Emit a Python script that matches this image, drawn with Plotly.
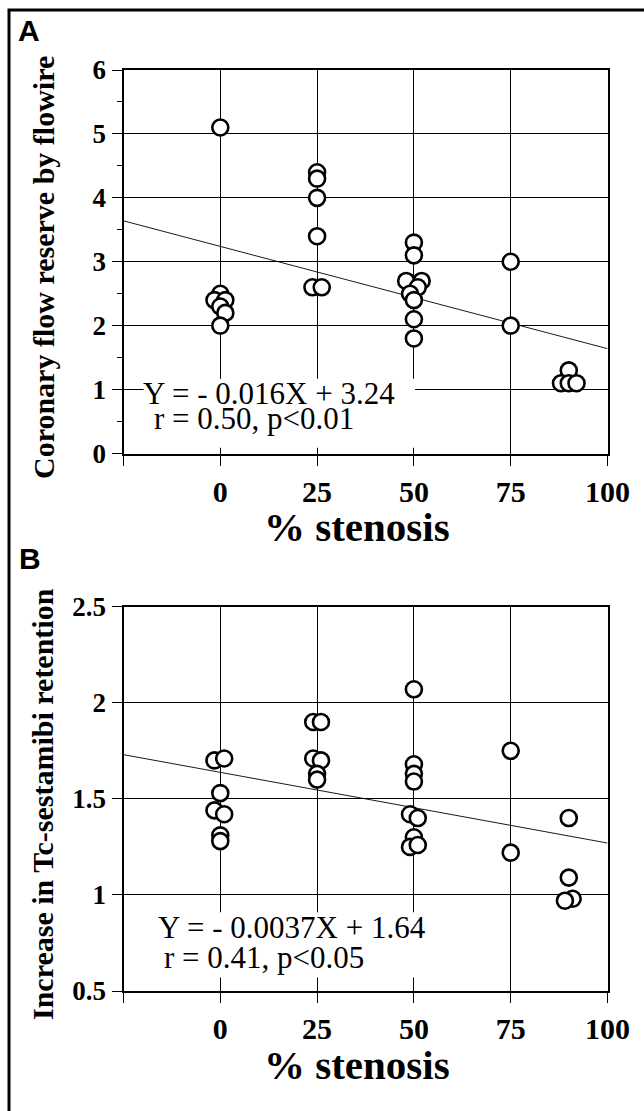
import plotly.graph_objects as go

# panel A: coronary flow reserve vs % stenosis
a_x = [0, 0, -1.5, 1.3, 0, 1.3, 0,
       25, 25, 25, 25, 23.8, 26.2,
       50, 50, 48, 52, 51, 49, 50, 50, 50,
       75, 75,
       90, 88, 90, 92]
a_y = [5.1, 2.5, 2.4, 2.4, 2.3, 2.2, 2.0,
       4.4, 4.3, 4.0, 3.4, 2.6, 2.6,
       3.3, 3.1, 2.7, 2.7, 2.6, 2.5, 2.4, 2.1, 1.8,
       3.0, 2.0,
       1.3, 1.1, 1.1, 1.1]

# panel B: increase in Tc-sestamibi retention vs % stenosis
b_x = [-1.5, 1, 0, -1.5, 1, 0, 0,
       24, 26, 24, 26, 25, 25,
       50, 50, 50, 50, 49, 51, 50, 49, 51,
       75, 75,
       90, 90, 91, 89]
b_y = [1.70, 1.71, 1.53, 1.44, 1.42, 1.31, 1.28,
       1.90, 1.90, 1.71, 1.70, 1.63, 1.60,
       2.07, 1.68, 1.63, 1.59, 1.42, 1.40, 1.30, 1.25, 1.26,
       1.75, 1.22,
       1.40, 1.09, 0.98, 0.97]

# regression line endpoints
fit_x = [-25, 100]
fit_a = [3.64, 1.64]
fit_b = [1.73, 1.27]

x_ticks = [-25, 0, 25, 50, 75, 100]
x_labels = ["", "0", "25", "50", "75", "100"]

W, H = 644, 1111
SERIF = "Liberation Serif"


def px(x):
    return x / W


def py(y):
    return 1 - y / H


fig = go.Figure()

marker = dict(symbol="circle", size=16, color="white",
              line=dict(color="black", width=2.6))

fig.add_trace(go.Scatter(x=fit_x, y=fit_a, mode="lines", xaxis="x", yaxis="y",
                         line=dict(color="black", width=0.9), showlegend=False))
fig.add_trace(go.Scatter(x=a_x, y=a_y, mode="markers", xaxis="x", yaxis="y",
                         marker=marker, showlegend=False))
fig.add_trace(go.Scatter(x=fit_x, y=fit_b, mode="lines", xaxis="x2", yaxis="y2",
                         line=dict(color="black", width=0.9), showlegend=False))
fig.add_trace(go.Scatter(x=b_x, y=b_y, mode="markers", xaxis="x2", yaxis="y2",
                         marker=marker, showlegend=False))

xdom = [px(123.5), px(607.5)]
common_x = dict(range=[-25, 100], tickmode="array", tickvals=x_ticks, ticktext=x_labels,
                ticks="outside", ticklen=10, tickwidth=1, tickcolor="black",
                showline=True, linecolor="black", linewidth=2, mirror=True,
                showgrid=True, gridcolor="black", gridwidth=1, zeroline=False,
                tickfont=dict(family=SERIF, size=30, color="black", weight="bold"),
                automargin=False, fixedrange=True)
common_y = dict(ticks="outside", ticklen=10, tickwidth=1, tickcolor="black",
                showline=True, linecolor="black", linewidth=2, mirror=True,
                showgrid=True, gridcolor="black", gridwidth=1, zeroline=False,
                tickfont=dict(family=SERIF, size=27, color="black", weight="bold"),
                automargin=False, fixedrange=True)

fig.update_layout(
    width=W, height=H, autosize=False,
    margin=dict(l=0, r=0, t=0, b=0, pad=0, autoexpand=False),
    paper_bgcolor="white", plot_bgcolor="white",
    xaxis=dict(domain=xdom, anchor="y", **common_x),
    yaxis=dict(domain=[py(453.5), py(70)], anchor="x", range=[0, 6], dtick=1,
               minor=dict(dtick=0.5, ticks="outside", ticklen=5, tickcolor="black",
                          showgrid=False),
               **common_y),
    xaxis2=dict(domain=xdom, anchor="y2", **common_x),
    yaxis2=dict(domain=[py(991), py(606.7)], anchor="x2", range=[0.5, 2.5],
                tickvals=[0.5, 1, 1.5, 2, 2.5], ticktext=["0.5", "1", "1.5", "2", "2.5"],
                **common_y),
)

# white boxes behind the regression equations (they cut the grid lines)
fig.add_shape(type="rect", xref="x", yref="y", x0=-19.8, x1=50.3, y0=0.09, y1=1.17,
              fillcolor="white", line=dict(width=0), layer="between")
fig.add_shape(type="rect", xref="x2", yref="y2", x0=-17.5, x1=53, y0=0.57, y1=0.91,
              fillcolor="white", line=dict(width=0), layer="between")

# outer frame
fig.add_shape(type="rect", xref="paper", yref="paper", x0=px(9), x1=1.2,
              y0=-0.2, y1=py(10), line=dict(color="black", width=3))


def note(x, y, text, font, xref="paper", yref="paper", xanchor="center", angle=0):
    fig.add_annotation(x=x, y=y, xref=xref, yref=yref, xanchor=xanchor, yanchor="middle",
                       text=text, showarrow=False, font=font, textangle=angle)


eq_font = dict(family=SERIF, size=31, color="black")
note(-20.4, 0.94, "Y = - 0.016X + 3.24", eq_font, "x", "y", "left")
note(-17.6, 0.55, "r = 0.50, p<0.01", eq_font, "x", "y", "left")
note(-16.6, 0.83, "Y = - 0.0037X + 1.64", eq_font, "x2", "y2", "left")
note(-15, 0.675, "r = 0.41, p<0.05", eq_font, "x2", "y2", "left")

title_font = dict(family=SERIF, size=41, color="black", weight="bold")
note(px(357), py(527), "% stenosis", title_font)
note(px(357), py(1065), "% stenosis", title_font)

ylab_font = dict(family=SERIF, size=30, color="black", weight="bold")
note(px(43), py(268), "Coronary flow reserve by flowire", ylab_font, angle=-90)
note(px(42), py(804), "Increase in Tc-sestamibi retention", ylab_font, angle=-90)

panel_font = dict(family="Liberation Sans", size=30, color="black", weight="bold")
note(px(28.5), py(31), "A", panel_font)
note(px(29.5), py(558), "B", panel_font)

fig.write_html("out.html", config={"displayModeBar": False},
               post_script="document.body.style.margin='0';document.body.style.overflow='hidden';")
